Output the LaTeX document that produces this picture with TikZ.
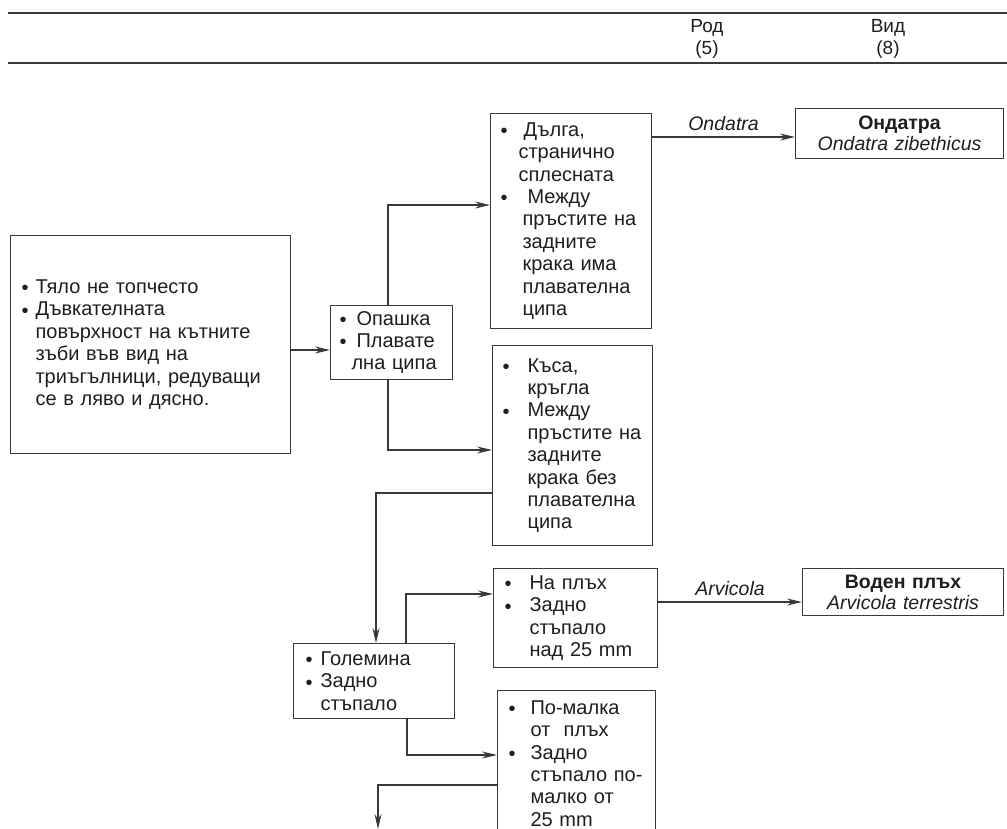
\documentclass[tikz,border=0pt]{standalone}
\usepackage{graphicx}
\usepackage{fontspec}
\setmainfont{Liberation Sans}
\usetikzlibrary{arrows.meta}
\definecolor{ln}{HTML}{3A3A34}
\definecolor{tx}{HTML}{1E1E1E}
\newcommand\bu[1]{\makebox[#1][l]{\raisebox{-1.3pt}{•}}}
\newcommand\ci[1]{\hspace*{#1}}
\tikzset{
  box/.style={draw=ln, line width=1.1pt, rectangle, anchor=north west, align=left,
    inner ysep=0pt, font=\fontsize{20}{22.4}\selectfont, text=tx},
  spbox/.style={box, align=center, font=\fontsize{19.5}{21}\selectfont},
  arr/.style={draw=ln, line width=1.1pt, -{Stealth[length=15pt,width=7pt,inset=5pt]}},
  lab/.style={font=\fontsize{19.5}{22}\selectfont\itshape, text=tx, inner sep=6pt},
  rule/.style={draw=ln, line width=2pt},
  head/.style={align=center, font=\fontsize{19}{22}\selectfont, text=tx}
}
\begin{document}
\begin{tikzpicture}[x=1pt,y=-1pt]
\useasboundingbox (0,0) rectangle (1007,829);
\clip (0,0) rectangle (1007,829);
% header
\coordinate (r1a) at (8,13); \coordinate (r1b) at (1007,13);
\coordinate (r2a) at (8,63); \coordinate (r2b) at (1007,63);
\draw[rule] (r1a) -- (r1b);
\draw[rule] (r2a) -- (r2b);
\node[head] (rod) at (707,39) {Род\\(5)};
\node[head] (vid) at (888,39) {Вид\\(8)};
% boxes
\node[box, minimum width=280pt, minimum height=218pt, text width=258pt, inner xsep=11pt] (A) at (10,235)
 {\bu{14pt}Тяло~не~топчесто\\
  \bu{14pt}Дъвкателната\\
  \ci{14pt}повърхност~на~кътните\\
  \ci{14pt}зъби~във~вид~на\\
  \ci{14pt}триъгълници,~редуващи\\
  \ci{14pt}се~в~ляво~и~дясно.};
\node[box, minimum width=122pt, minimum height=74pt, text width=104pt, inner xsep=9pt] (B) at (330,305)
 {\bu{17pt}Опашка\\
  \bu{17pt}Плавате\\
  \ci{12pt}лна~ципа};
\node[box, minimum width=161pt, minimum height=215pt, text width=141pt, inner xsep=10pt] (C) at (490,113)
 {\bu{23pt}Дълга,\\
  \ci{18pt}странично\\
  \ci{18pt}сплесната\\
  \bu{27pt}Между\\
  \ci{22pt}пръстите~на\\
  \ci{22pt}задните\\
  \ci{22pt}крака~има\\
  \ci{22pt}плавателна\\
  \ci{22pt}ципа};
\node[spbox, minimum width=208pt, minimum height=50pt, text width=190pt, inner xsep=9pt] (E) at (795,108)
 {\textbf{Ондатра}\\ \textit{Ondatra~zibethicus}};
\node[box, minimum width=160pt, minimum height=200pt, text width=140pt, inner xsep=10pt] (D) at (492,345)
 {\bu{25pt}Къса,\\
  \ci{25pt}кръгла\\
  \bu{25pt}Между\\
  \ci{25pt}пръстите~на\\
  \ci{25pt}задните\\
  \ci{25pt}крака~без\\
  \ci{25pt}плавателна\\
  \ci{25pt}ципа};
\node[box, minimum width=161pt, minimum height=75pt, text width=137pt, inner xsep=12pt] (F) at (293,643)
 {\bu{15pt}Големина\\
  \bu{15pt}Задно\\
  \ci{15pt}стъпало};
\node[box, minimum width=164pt, minimum height=99pt, text width=142pt, inner xsep=11pt] (G) at (493,568)
 {\bu{25pt}На~плъх\\
  \bu{25pt}Задно\\
  \ci{25pt}стъпало\\
  \ci{25pt}над~25~mm};
\node[spbox, minimum width=201pt, minimum height=47pt, text width=185pt, inner xsep=8pt] (H) at (802,568)
 {\textbf{Воден~плъх}\\ \textit{Arvicola~terrestris}};
\node[box, minimum width=158pt, minimum height=146pt, text width=136pt, inner xsep=11pt] (I) at (497,690)
 {\bu{22pt}По-малка\\
  \ci{22pt}от~~плъх\\
  \bu{22pt}Задно\\
  \ci{22pt}стъпало~по-\\
  \ci{22pt}малко~от\\
  \ci{22pt}25~mm};
% routing coordinates
\coordinate (p1) at (0,350);
\coordinate (p2) at (388,205);
\coordinate (p3) at (388,450);
\coordinate (p4) at (0,137);
\coordinate (p5) at (376,493);
\coordinate (p6) at (406,594);
\coordinate (p7) at (0,602);
\coordinate (p8) at (407,755);
\coordinate (p9) at (378,785);
\coordinate (p9e) at (378,829);
% connectors
\draw[arr] (A.east |- p1) -- (B.west |- p1);
\draw[arr] (B.north -| p2) |- (C.west |- p2);
\draw[arr] (B.south -| p3) |- (D.west |- p3);
\draw[arr] (C.east |- p4) -- node[lab, above] (l1) {Ondatra} (E.west |- p4);
\draw[arr] (D.west |- p5) -| (F.north -| p5);
\draw[arr] (F.north -| p6) |- (G.west |- p6);
\draw[arr] (G.east |- p7) -- node[lab, above] (l2) {Arvicola} (H.west |- p7);
\draw[arr] (F.south -| p8) |- (I.west |- p8);
\draw[arr] (I.west |- p9) -| (p9e);
\end{tikzpicture}
\end{document}
